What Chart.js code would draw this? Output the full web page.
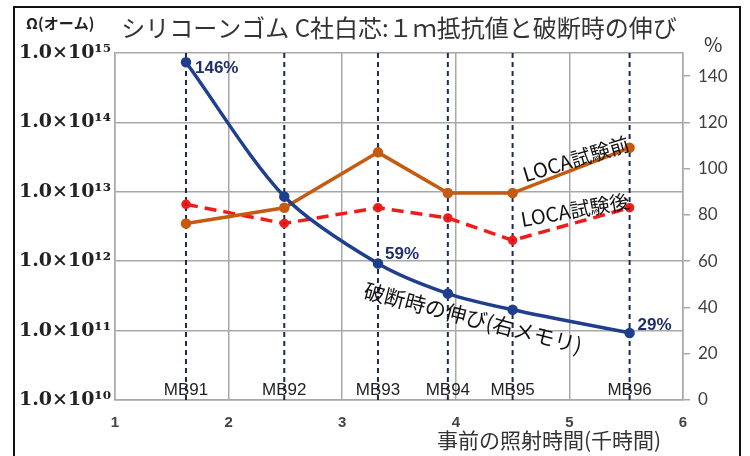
<!DOCTYPE html>
<html>
<head>
<meta charset="utf-8">
<script src="https://cdn.jsdelivr.net/npm/chart.js@4.4.1/dist/chart.umd.min.js"></script>
<style>
  html, body { margin: 0; padding: 0; background: #fff; }
  #wrap { width: 750px; height: 456px; }
</style>
</head>
<body>
<div id="wrap"><canvas id="chart" width="750" height="456"></canvas></div>
<script>
// サンプル名と照射時間(千時間)
const mbNames = ["MB91", "MB92", "MB93", "MB94", "MB95", "MB96"];
const mbHours = [1.625, 2.49, 3.315, 3.93, 4.50, 5.53];

// 破断時の伸び (%), 右メモリ
const elongation = [146, 88, 59, 46, 39, 29];
// 1m抵抗値 (Ω), 左メモリ
const resistBefore = [3.5e12, 5.9e12, 3.7e13, 9.6e12, 9.6e12, 4.3e13];
const resistAfter = [6.6e12, 3.5e12, 5.9e12, 4.2e12, 2.0e12, 5.9e12];

// 目盛り
const xTicks = [1, 2, 3, 4, 5, 6];
const leftTicks = [1e10, 1e11, 1e12, 1e13, 1e14, 1e15];
const rightTicks = [0, 20, 40, 60, 80, 100, 120, 140];

const sup = { "0": "⁰", "1": "¹", "2": "²", "3": "³", "4": "⁴", "5": "⁵", "6": "⁶", "7": "⁷", "8": "⁸", "9": "⁹" };
function expLabel(v) {
  const e = String(Math.round(Math.log10(v)));
  return "1.0×10" + e.split("").map(c => sup[c]).join("");
}

function pts(ys) {
  return mbHours.map((x, i) => ({ x: x, y: ys[i] }));
}

// 縦の点線 (各サンプル位置)
const guideSets = mbHours.map(h => ({
  data: [{ x: h, y: leftTicks[0] }, { x: h, y: leftTicks[leftTicks.length - 1] }],
  yAxisID: "y",
  borderColor: "#1b2a56",
  borderWidth: 2,
  borderDash: [5, 4],
  pointRadius: 0,
  order: 5
}));

const gridColor = "#a8a8a8";

const annotate = {
  id: "annotate",
  afterDraw(chart) {
    const c = chart.ctx;
    const xs = chart.scales.x, yr = chart.scales.y1;
    c.save();

    // 外枠
    c.strokeStyle = "#111";
    c.lineWidth = 2;
    c.beginPath();
    c.moveTo(14, 460);
    c.lineTo(14, 7);
    c.lineTo(740, 7);
    c.lineTo(740, 460);
    c.stroke();

    // タイトル
    c.fillStyle = "#333";
    c.textBaseline = "middle";
    c.textAlign = "center";
    c.font = "24px 'Noto Sans CJK JP'";
    c.fillText("シリコーンゴム C社白芯:１ｍ抵抗値と破断時の伸び", 399, 28);

    c.textAlign = "left";
    c.fillStyle = "#222";
    c.font = "bold 15px 'Noto Sans CJK JP'";
    c.fillText("Ω(オーム)", 26, 23);

    c.fillStyle = "#333";
    c.font = "20px 'Noto Sans CJK JP'";
    c.fillText("%", 704, 44);

    // x軸タイトル
    c.textAlign = "center";
    c.font = "21px 'Noto Sans CJK JP'";
    c.fillText("事前の照射時間(千時間)", 549, 440);

    // サンプル名
    c.fillStyle = "#222";
    c.font = "17px 'Liberation Sans'";
    mbNames.forEach((n, i) => {
      c.fillText(n, xs.getPixelForValue(mbHours[i]), 390);
    });

    // 伸びの値
    c.fillStyle = "#1f2f6a";
    c.font = "bold 17px 'Liberation Sans'";
    c.textAlign = "left";
    const lab = (i, dx, dy) => {
      c.fillText(elongation[i] + "%", xs.getPixelForValue(mbHours[i]) + dx, yr.getPixelForValue(elongation[i]) + dy);
    };
    lab(0, 9, 6);
    lab(2, 7, -9);
    lab(5, 8, -8);

    // 系列名
    c.fillStyle = "#111";
    const rot = (t, x, y, a, f) => {
      c.save();
      c.translate(x, y);
      c.rotate(a * Math.PI / 180);
      c.font = f;
      c.textAlign = "center";
      c.fillText(t, 0, 0);
      c.restore();
    };
    rot("LOCA試験前", 576, 159, -17, "20px 'Noto Sans CJK JP'");
    rot("LOCA試験後", 575, 210, -10, "20px 'Noto Sans CJK JP'");
    rot("破断時の伸び(右メモリ)", 473, 318, 14.5, "21px 'Noto Sans CJK JP'");

    c.restore();
  }
};

new Chart(document.getElementById("chart"), {
  type: "line",
  data: {
    datasets: [
      {
        label: "破断時の伸び",
        data: pts(elongation),
        yAxisID: "y1",
        borderColor: "#1f3f8c",
        backgroundColor: "#1f3f8c",
        borderWidth: 3.5,
        pointRadius: 3.5,
        tension: 0.3,
        order: 1
      },
      {
        label: "LOCA試験前",
        data: pts(resistBefore),
        yAxisID: "y",
        borderColor: "#c55a11",
        backgroundColor: "#c55a11",
        borderWidth: 3.5,
        pointRadius: 3.5,
        order: 2
      },
      {
        label: "LOCA試験後",
        data: pts(resistAfter),
        yAxisID: "y",
        borderColor: "#f01c1c",
        backgroundColor: "#b01515",
        borderWidth: 3.5,
        borderDash: [12, 7],
        pointRadius: 3,
        order: 3
      },
      ...guideSets
    ]
  },
  options: {
    responsive: false,
    animation: false,
    layout: { padding: { top: 53, left: 0, right: 0, bottom: 0 } },
    plugins: {
      legend: { display: false },
      tooltip: { enabled: false }
    },
    scales: {
      x: {
        type: "linear",
        min: 1,
        max: 6,
        afterBuildTicks: s => { s.ticks = xTicks.map(v => ({ value: v })); },
        afterFit: s => { s.height = 56; },
        grid: { color: gridColor, lineWidth: 1.5, drawTicks: false },
        border: { color: gridColor, width: 1.5 },
        ticks: {
          padding: 14,
          color: "#444",
          font: { family: "'Liberation Sans'", size: 15, weight: "bold" }
        }
      },
      y: {
        type: "logarithmic",
        position: "left",
        min: 1e10,
        max: 1e15,
        afterBuildTicks: s => { s.ticks = leftTicks.map(v => ({ value: v })); },
        afterFit: s => { s.width = 115; },
        grid: { color: gridColor, lineWidth: 1.5, drawTicks: false },
        border: { color: gridColor, width: 1.5 },
        ticks: {
          padding: 4,
          color: "#222",
          font: { family: "'DejaVu Serif'", size: 19, weight: "bold" },
          callback: v => expLabel(v)
        }
      },
      y1: {
        type: "linear",
        position: "right",
        min: 0,
        max: 150,
        afterBuildTicks: s => { s.ticks = rightTicks.map(v => ({ value: v })); },
        afterFit: s => { s.width = 67; },
        grid: { drawOnChartArea: false, color: gridColor, lineWidth: 1.5, tickLength: 7 },
        border: { color: gridColor, width: 1.5 },
        ticks: {
          padding: 8,
          color: "#404040",
          font: { family: "Lato", size: 17 }
        }
      }
    }
  },
  plugins: [annotate]
});
</script>
</body>
</html>
